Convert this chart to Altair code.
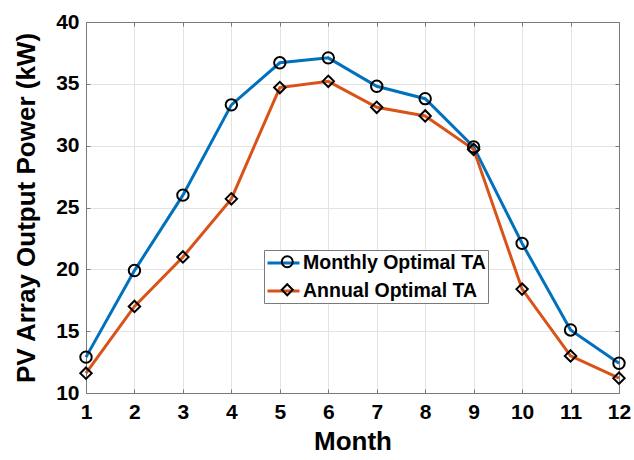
import altair as alt
import pandas as pd

months = list(range(1, 12 + 1))
monthly_opt = [12.9, 19.9, 26.0, 33.3, 36.7, 37.1, 34.8, 33.8, 29.9, 22.1, 15.1, 12.4]
annual_opt = [11.6, 17.0, 21.0, 25.7, 34.7, 35.2, 33.1, 32.4, 29.7, 18.4, 13.0, 11.2]
series_names = ["Monthly Optimal TA", "Annual Optimal TA"]
marker_names = ["Monthly", "Annual"]
series_colors = ["#0072BD", "#D95319"]
series_shapes = ["circle", "diamond"]
x_ticks = months
y_ticks = [10, 15, 20, 25, 30, 35, 40]

rows = []
for m, a, b in zip(months, monthly_opt, annual_opt):
    rows.append({"Month": m, "Power": a, "Series": series_names[0], "Marker": marker_names[0]})
    rows.append({"Month": m, "Power": b, "Series": series_names[1], "Marker": marker_names[1]})
df = pd.DataFrame(rows)

FONT = "Liberation Sans"
FRAME = "#7a7a7a"

xscale = alt.Scale(domain=[1, 12], nice=False)
yscale = alt.Scale(domain=[10, 40], nice=False)

x_bottom = alt.X(
    "Month:Q", scale=xscale,
    axis=alt.Axis(values=x_ticks, title="Month", format="d", grid=True,
                  tickSize={"expr": "-4"}, labelPadding=12, labelFlush=False,
                  labelFontSize=21, labelFontWeight="bold", labelFont=FONT,
                  labelColor="#000", titleFontSize=26, titleFontWeight="bold",
                  titleFont=FONT, titleColor="#000", titlePadding=6,
                  domainColor=FRAME, tickColor=FRAME, gridColor="#e3e3e3"))
y_left = alt.Y(
    "Power:Q", scale=yscale,
    axis=alt.Axis(values=y_ticks, title="PV Array Output Power (kW)", grid=True,
                  tickSize={"expr": "-4"}, labelPadding=11, labelFlush=False,
                  labelFontSize=21, labelFontWeight="bold", labelFont=FONT,
                  labelColor="#000", titleFontSize=26, titleFontWeight="bold",
                  titleFont=FONT, titleColor="#000", titlePadding=16,
                  domainColor=FRAME, tickColor=FRAME, gridColor="#e3e3e3"))

color = alt.Color(
    "Series:N", scale=alt.Scale(domain=series_names, range=series_colors),
    legend=alt.Legend(orient="none", legendX=178, legendY=228, title=None,
                      symbolType="M-1,0H2.37", symbolSize=361, symbolStrokeWidth=3,
                      labelFontSize=19.5, labelFontWeight="bold", labelFont=FONT,
                      labelColor="#000", labelLimit=400, labelOffset=15,
                      padding=2, rowPadding=7, strokeColor=FRAME,
                      fillColor="white", zindex=1))
shape = alt.Shape(
    "Marker:N", scale=alt.Scale(domain=marker_names, range=series_shapes),
    legend=alt.Legend(orient="none", legendX=189.5, legendY=228, title=None,
                      symbolSize=120, symbolStrokeColor="black",
                      symbolFillColor="white", symbolStrokeWidth=2,
                      labelFontSize=19.5, labelFontWeight="bold", labelFont=FONT,
                      labelExpr="''", labelLimit=400, labelOffset=4,
                      padding=2, rowPadding=7, zindex=2))

lines = alt.Chart(df).mark_line(strokeWidth=3).encode(
    x=x_bottom, y=y_left, color=color, detail="Series:N")
points = alt.Chart(df).mark_point(size=130, strokeWidth=2, stroke="black",
                                   filled=False, opacity=1).encode(
    x=alt.X("Month:Q", axis=None), y=alt.Y("Power:Q", axis=None), shape=shape)

frame_top = alt.Chart(df).mark_point(opacity=0).encode(
    x=alt.X("Month:Q", scale=xscale,
            axis=alt.Axis(orient="top", values=x_ticks, labels=False, title=None,
                          grid=False, tickSize={"expr": "-4"},
                          domainColor=FRAME, tickColor=FRAME)),
    y=alt.Y("Power:Q", scale=yscale,
            axis=alt.Axis(orient="right", values=y_ticks, labels=False, title=None,
                          grid=False, tickSize={"expr": "-4"},
                          domainColor=FRAME, tickColor=FRAME)))

chart = alt.layer(lines, points, frame_top).resolve_axis(
    x="independent", y="independent"
).properties(
    width=533, height=371,
    autosize=alt.AutoSizeParams(type="none"),
    padding={"left": 86, "top": 22, "right": 15, "bottom": 67},
).configure_view(stroke=None).configure(background="white")

chart.save("out.html", embed_options={"renderer": "svg", "actions": False})
